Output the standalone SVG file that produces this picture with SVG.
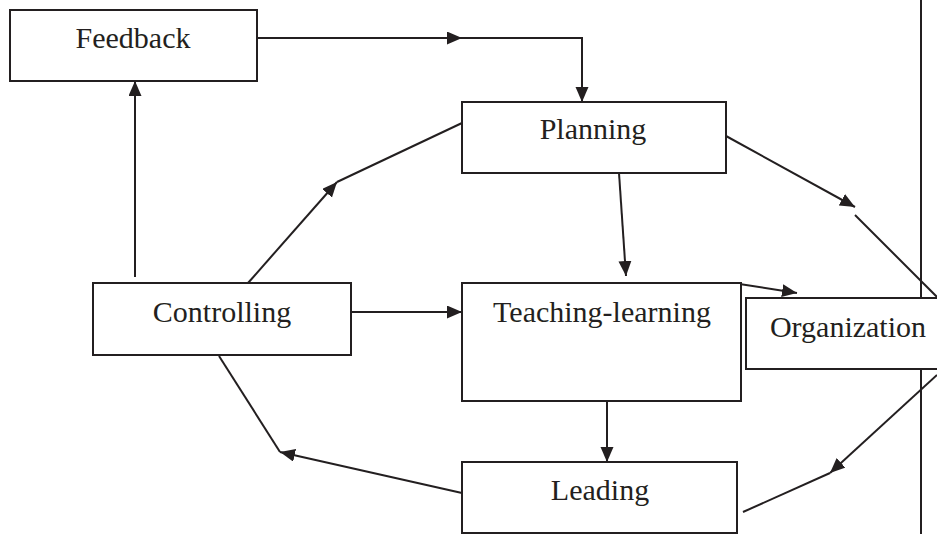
<svg xmlns="http://www.w3.org/2000/svg" width="937" height="534" viewBox="0 0 937 534">
<style>
.box{fill:#fff;stroke:#231f20;stroke-width:2}
.ln{fill:none;stroke:#231f20;stroke-width:2}
.t{font-family:"Liberation Serif","Times New Roman",serif;font-size:30px;fill:#231f20;text-anchor:middle}
</style>
<defs>
<marker id="ah" markerUnits="userSpaceOnUse" markerWidth="16" markerHeight="14" refX="15" refY="6.5" orient="auto">
<path d="M0,0 L15,6.5 L0,13 z" fill="#231f20"/>
</marker>
</defs>
<rect width="937" height="534" fill="#fff"/>
<g id="connectors">
<line class="ln" x1="921" y1="0" x2="921" y2="534"/>
<path class="ln" d="M257,38 L462,38" marker-end="url(#ah)"/>
<path class="ln" d="M462,38 L582,38 L582,102" marker-end="url(#ah)"/>
<path class="ln" d="M619,173 L626,276" marker-end="url(#ah)"/>
<path class="ln" d="M733,283 L797,293" marker-end="url(#ah)"/>
<path class="ln" d="M726,136 L855,207" marker-end="url(#ah)"/>
<path class="ln" d="M855,215 L937,297"/>
<path class="ln" d="M937,375 L830,473" marker-end="url(#ah)"/>
<path class="ln" d="M830,473 L743,512"/>
<path class="ln" d="M607,401 L607,462" marker-end="url(#ah)"/>
<path class="ln" d="M462,493 L280,452" marker-end="url(#ah)"/>
<path class="ln" d="M219,356 L280,452"/>
<path class="ln" d="M351,312 L462,312" marker-end="url(#ah)"/>
<path class="ln" d="M135,277 L135,81" marker-end="url(#ah)"/>
<path class="ln" d="M248,283 L337,182" marker-end="url(#ah)"/>
<path class="ln" d="M337,182 L462,123"/>
</g>
<g id="feedback"><rect class="box" x="10" y="10" width="247" height="71"/><text class="t" x="133" y="48">Feedback</text></g>
<g id="planning"><rect class="box" x="462" y="102" width="264" height="71"/><text class="t" x="593" y="139">Planning</text></g>
<g id="controlling"><rect class="box" x="93" y="283" width="258" height="72"/><text class="t" x="222" y="322">Controlling</text></g>
<g id="teaching-learning"><rect class="box" x="462" y="283" width="279" height="118"/><text class="t" x="602" y="322">Teaching-learning</text></g>
<g id="organization"><rect class="box" x="746" y="298" width="200" height="71"/><text class="t" x="848" y="337">Organization</text></g>
<g id="leading"><rect class="box" x="462" y="462" width="275" height="71"/><text class="t" x="600" y="500">Leading</text></g>
</svg>
